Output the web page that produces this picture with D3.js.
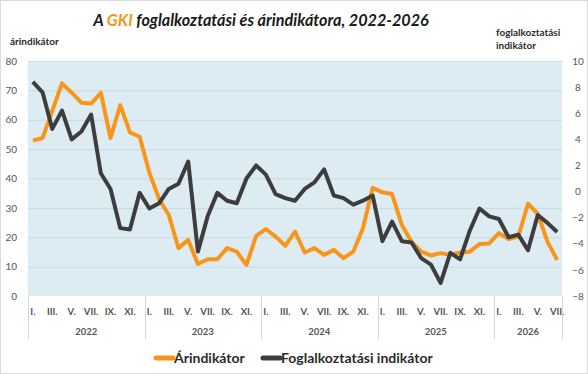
<!DOCTYPE html>
<html>
<head>
<meta charset="utf-8">
<script src="https://cdn.jsdelivr.net/npm/d3@7"></script>
<style>
  html, body { margin: 0; padding: 0; background: #fff; }
  svg { display: block; font-family: Lato, "Open Sans", sans-serif; }
</style>
</head>
<body>
<div id="chart"></div>
<script>
// ── Data ─────────────────────────────────────────────────────────────────
const years          = ["2022", "2023", "2024", "2025", "2026"];
const monthsPerYear  = [12, 12, 12, 12, 7];
const monthNames     = ["I.", "II.", "III.", "IV.", "V.", "VI.", "VII.", "VIII.", "IX.", "X.", "XI.", "XII."];
const leftTicks      = [0, 10, 20, 30, 40, 50, 60, 70, 80];
const rightTicks     = [-8, -6, -4, -2, 0, 2, 4, 6, 8, 10];

// árindikátor (left axis)
const priceIndex = [
  52.9, 53.8, 63.0, 72.4, 69.2, 65.8, 65.5, 69.2, 53.8, 65.0, 55.7, 54.2,
  42.0, 33.0, 27.6, 16.3, 19.1, 10.9, 12.5, 12.5, 16.3, 15.1, 10.6, 20.5,
  22.8, 20.2, 17.1, 21.9, 14.8, 16.3, 14.0, 15.7, 12.9, 15.1, 23.1, 36.8,
  35.3, 34.7, 24.2, 18.5, 15.1, 13.8, 14.6, 14.0, 14.8, 15.1, 17.7, 17.9,
  21.4, 19.4, 20.2, 31.4, 28.0, 18.5, 12.3
];

// foglalkoztatási indikátor (right axis)
const employmentIndex = [
   8.4,  7.6,  4.8,  6.2,  4.0,  4.6,  5.9,  1.4,  0.2, -2.8, -2.9, -0.1,
  -1.3, -0.9,  0.2,  0.6,  2.3, -4.6, -1.9, -0.1, -0.7, -0.9,  1.0,  2.0,
   1.3, -0.2, -0.5, -0.7,  0.2,  0.7,  1.7, -0.3, -0.5, -1.0, -0.7, -0.3,
  -3.8, -2.3, -3.8, -3.9, -5.1, -5.6, -7.0, -4.7, -5.2, -3.0, -1.3, -1.9,
  -2.1, -3.5, -3.3, -4.5, -1.8, -2.4, -3.1
];

// ── Layout ───────────────────────────────────────────────────────────────
const W = 588, H = 374;
const plot = { left: 28, right: 562, top: 61, bottom: 296 };
const colors = {
  price:  "#f7961a",
  employ: "#3d3d3d",
  bg:     "#ddecf3",
  grid:   "#c8d9e1",
  sep:    "#d6d6d6",
  text:   "#555",
  dark:   "#2b2b2b",
};

// month index list built from years × months
const months = [];
years.forEach((y, yi) => {
  for (let m = 0; m < monthsPerYear[yi]; m++) months.push({ year: y, m, i: months.length });
});

const x = d3.scaleBand()
  .domain(months.map(d => d.i))
  .range([plot.left, plot.right]);
const xc = i => x(i) + x.bandwidth() / 2;

const yL = d3.scaleLinear().domain([0, 80]).range([plot.bottom, plot.top]);
const yR = d3.scaleLinear().domain([-8, 10]).range([plot.bottom, plot.top]);

const svg = d3.select("#chart").append("svg")
  .attr("width", W)
  .attr("height", H);

// outer frame
svg.append("rect")
  .attr("x", 0.5).attr("y", 0.5)
  .attr("width", W - 1).attr("height", H - 1)
  .attr("fill", "#fff")
  .attr("stroke", "#dadada");

// ── Title ────────────────────────────────────────────────────────────────
const title = svg.append("text")
  .attr("x", 261)
  .attr("y", 26)
  .attr("text-anchor", "middle")
  .attr("font-size", 16.2)
  .attr("font-weight", "bold")
  .attr("font-style", "italic")
  .attr("fill", "#1a1a1a");
title.append("tspan").text("A ");
title.append("tspan").attr("fill", colors.price).text("GKI");
title.append("tspan").text(" foglalkoztatási és árindikátora, 2022-2026");

// axis titles
svg.append("text")
  .attr("x", 10).attr("y", 45)
  .attr("font-size", 10).attr("font-weight", "bold")
  .attr("fill", colors.dark)
  .text("árindikátor");

const rTitle = svg.append("text")
  .attr("x", 496).attr("y", 36)
  .attr("font-size", 10).attr("font-weight", "bold")
  .attr("fill", colors.dark);
rTitle.append("tspan").attr("x", 496).text("foglalkoztatási");
rTitle.append("tspan").attr("x", 496).attr("dy", 13).text("indikátor");

// ── Plot background + grid ───────────────────────────────────────────────
svg.append("rect")
  .attr("x", plot.left).attr("y", plot.top)
  .attr("width", plot.right - plot.left)
  .attr("height", plot.bottom - plot.top)
  .attr("fill", colors.bg);

svg.append("g")
  .selectAll("line")
  .data(leftTicks.filter(t => t > 0))
  .join("line")
    .attr("x1", plot.left).attr("x2", plot.right)
    .attr("y1", d => yL(d) + 0.5).attr("y2", d => yL(d) + 0.5)
    .attr("stroke", colors.grid)
    .attr("stroke-width", 1);

// ── Axes ─────────────────────────────────────────────────────────────────
const leftAxis = svg.append("g")
  .attr("transform", `translate(${plot.left - 11},0)`)
  .call(d3.axisLeft(yL).tickValues(leftTicks).tickSize(0).tickPadding(0));
leftAxis.select(".domain").remove();
leftAxis.selectAll("text")
  .attr("font-size", 10)
  .attr("font-family", "Lato, sans-serif")
  .attr("fill", colors.text);

const rightAxis = svg.append("g")
  .attr("transform", `translate(${plot.right + 16},0)`)
  .call(d3.axisRight(yR).tickValues(rightTicks).tickSize(0).tickPadding(0));
rightAxis.select(".domain").remove();
rightAxis.selectAll("text")
  .attr("text-anchor", "middle")
  .attr("font-size", 10)
  .attr("font-family", "Lato, sans-serif")
  .attr("fill", colors.text);

// month labels (odd months only)
svg.append("g")
  .selectAll("text")
  .data(months.filter(d => d.m % 2 === 0))
  .join("text")
    .attr("x", d => xc(d.i))
    .attr("y", 315)
    .attr("text-anchor", "middle")
    .attr("font-size", 9.5)
    .attr("font-weight", "bold")
    .attr("fill", colors.text)
    .text(d => monthNames[d.m]);

// year groups: separators + labels
const yearSpans = years.map(y => {
  const ms = months.filter(d => d.year === y);
  return { year: y, x0: x(ms[0].i), x1: x(ms[ms.length - 1].i) + x.bandwidth() };
});

svg.append("g")
  .selectAll("line")
  .data([plot.left, ...yearSpans.map(s => s.x1)])
  .join("line")
    .attr("x1", d => Math.round(d) + 0.5).attr("x2", d => Math.round(d) + 0.5)
    .attr("y1", plot.bottom).attr("y2", 339)
    .attr("stroke", colors.sep);

svg.append("g")
  .selectAll("text")
  .data(yearSpans)
  .join("text")
    .attr("x", d => (d.x0 + d.x1) / 2)
    .attr("y", 335)
    .attr("text-anchor", "middle")
    .attr("font-size", 9.5)
    .attr("font-weight", "bold")
    .attr("fill", colors.text)
    .text(d => d.year);

// ── Series ───────────────────────────────────────────────────────────────
const priceLine = d3.line()
  .x((d, i) => xc(i))
  .y(d => yL(d));

const employLine = d3.line()
  .x((d, i) => xc(i))
  .y(d => yR(d));

svg.append("path")
  .datum(priceIndex)
  .attr("d", priceLine)
  .attr("fill", "none")
  .attr("stroke", colors.price)
  .attr("stroke-width", 4)
  .attr("stroke-linejoin", "round");

svg.append("path")
  .datum(employmentIndex)
  .attr("d", employLine)
  .attr("fill", "none")
  .attr("stroke", colors.employ)
  .attr("stroke-width", 4)
  .attr("stroke-linejoin", "round");

// ── Legend ───────────────────────────────────────────────────────────────
const legendItems = [
  { label: "Árindikátor",               color: colors.price,  x: 156 },
  { label: "Foglalkoztatási indikátor", color: colors.employ, x: 263 },
];

const legend = svg.append("g");
legend.selectAll("line")
  .data(legendItems)
  .join("line")
    .attr("x1", d => d.x).attr("x2", d => d.x + 17)
    .attr("y1", 358).attr("y2", 358)
    .attr("stroke", d => d.color)
    .attr("stroke-width", 5)
    .attr("stroke-linecap", "round");

legend.selectAll("text")
  .data(legendItems)
  .join("text")
    .attr("x", d => d.x + 18)
    .attr("y", 363)
    .attr("font-size", 14)
    .attr("font-weight", "bold")
    .attr("fill", colors.dark)
    .text(d => d.label);
</script>
</body>
</html>
